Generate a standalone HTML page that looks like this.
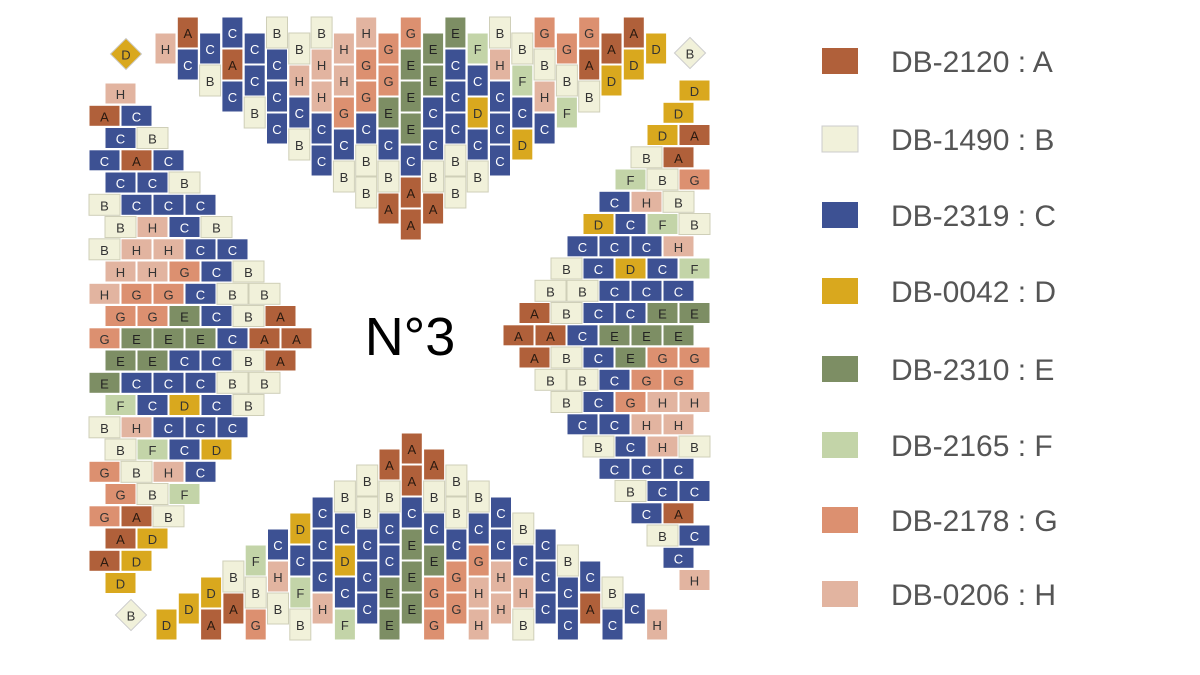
<!DOCTYPE html>
<html><head><meta charset="utf-8"><style>
html,body{margin:0;padding:0;background:#fff;}
svg{display:block}
.t{font-family:"Liberation Sans",sans-serif;font-size:13px;text-anchor:middle;dominant-baseline:central;}
.lg{font-family:"Liberation Sans",sans-serif;font-size:30px;fill:#555;}
</style></head><body>
<svg id="s" width="1200" height="675" viewBox="0 0 1200 675" xmlns="http://www.w3.org/2000/svg">
<text x="410" y="337" font-family="Liberation Sans, sans-serif" font-size="54" text-anchor="middle" dominant-baseline="central" fill="#000">N°3</text>
<rect x="822" y="48" width="36" height="26" fill="#b0603a"/><text class="lg" x="891" y="72">DB-2120 : A</text>
<rect x="822" y="126" width="36" height="26" fill="#f1f1da" stroke="#ccc"/><text class="lg" x="891" y="150">DB-1490 : B</text>
<rect x="822" y="202" width="36" height="26" fill="#3d5193"/><text class="lg" x="891" y="226">DB-2319 : C</text>
<rect x="822" y="278" width="36" height="26" fill="#d9a81e"/><text class="lg" x="891" y="302">DB-0042 : D</text>
<rect x="822" y="356" width="36" height="26" fill="#7d8e64"/><text class="lg" x="891" y="380">DB-2310 : E</text>
<rect x="822" y="432" width="36" height="26" fill="#c3d4a8"/><text class="lg" x="891" y="456">DB-2165 : F</text>
<rect x="822" y="507" width="36" height="26" fill="#dc9070"/><text class="lg" x="891" y="531">DB-2178 : G</text>
<rect x="822" y="581" width="36" height="26" fill="#e2b4a0"/><text class="lg" x="891" y="605">DB-0206 : H</text>
</svg>
<script>
var C={A:"#b0603a",B:"#f1f1da",C:"#3d5193",D:"#d9a81e",E:"#7d8e64",F:"#c3d4a8",G:"#dc9070",H:"#e2b4a0"};
var TC={A:"#2a1a10",B:"#333",C:"#fff",D:"#333",E:"#222",F:"#333",G:"#333",H:"#333"};
var s1=["H","AC","CB","CAC","CCB","BCCC","BHCB","BHHCC","HHGCB","HGGCBB","GGECBA","GEEECAA","EECCBA","ECCCBB","FCDCB","BHCCC","BFCD","GBHC","GBF","GAB","AD","AD","D"];
var s2=["D","D","DA","BA","FBG","CHB","DCFB","CCCH","BCDCF","BBCCC","ABCCEE","AACEEE","ABCEGG","BBCGG","BCGHH","CCHH","BCHB","CCC","BCC","CA","BC","C","H"];
var svg=document.getElementById("s"),out="";
function bead(x,y,w,h,l){
 out+='<rect x="'+x.toFixed(1)+'" y="'+y.toFixed(1)+'" width="'+w+'" height="'+h+'" fill="'+C[l]+'" stroke="'+(l=="B"?"#cfcfb8":"#fff")+'" stroke-width="1"/>';
 out+='<text class="t" x="'+(x+w/2).toFixed(1)+'" y="'+(y+h/2+1).toFixed(1)+'" fill="'+TC[l]+'">'+l+'</text>';
}
for(var i=0;i<23;i++){
 var a=s1[i],b=s2[i];
 var x=155+22.3*i, t=(i%2==0)?33:17;
 for(var j=0;j<a.length;j++) bead(x,t+32*j,21,31,a[j]);
 var y=83+22.25*i, sx=(i%2==0)?105:89;
 for(var j=0;j<a.length;j++) bead(sx+32*j,y,31,21,a[j]);
 var xb=156+22.3*i, e=(i%2==0)?641:625, tb=e-32*b.length;
 for(var j=0;j<b.length;j++) bead(xb,tb+32*j,21,31,b[j]);
 var yr=80+22.25*i, ex=(i%2==0)?711:695, sr=ex-32*b.length;
 for(var j=0;j<b.length;j++) bead(sr+32*j,yr,31,21,b[j]);
}
function dia(cx,cy,l){
 out+='<rect x="'+(cx-11)+'" y="'+(cy-11)+'" width="22" height="22" fill="'+C[l]+'" stroke="#ccc" transform="rotate(45 '+cx+' '+cy+')"/>';
 out+='<text class="t" x="'+cx+'" y="'+(cy+1)+'" fill="#333">'+l+'</text>';
}
dia(126,54,"D");dia(690,53,"B");dia(131,615,"B");
svg.insertAdjacentHTML("beforeend",out);
</script>
</body></html>
